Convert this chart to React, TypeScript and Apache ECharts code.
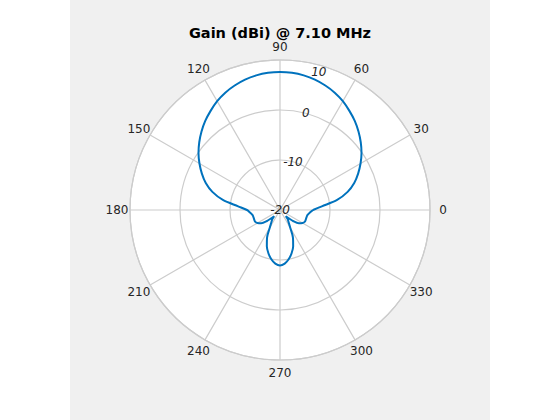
import React, { useEffect, useRef } from 'react';
import * as echarts from 'echarts';

const titleText = 'Gain (dBi) @ 7.10 MHz';

// angle in degrees (0 = right, counter-clockwise)
const angles = [
  0, 5, 10, 15, 20, 25, 30, 35, 40, 45, 50, 55, 60, 65, 70, 75, 80, 85, 90,
  95, 100, 105, 110, 115, 120, 125, 130, 135, 140, 145, 150, 155, 160, 165, 170, 175, 180,
  185, 190, 195, 200, 205, 210, 215, 220, 224, 227, 230, 235, 240, 245, 250, 255, 260, 265, 270,
  275, 280, 285, 290, 295, 300, 305, 310, 313, 316, 320, 325, 330, 335, 340, 345, 350, 355, 360,
];

// gain in dBi
const gains = [
  -13.4, -11.6, -8.4, -6.0, -4.2, -2.76, -1.4, -0.1, 1.08, 2.2, 3.26, 4.2, 5.14, 5.9, 6.5, 7.0, 7.34, 7.54, 7.6,
  7.54, 7.34, 7.0, 6.5, 5.9, 5.14, 4.2, 3.26, 2.2, 1.08, -0.1, -1.4, -2.76, -4.2, -6.0, -8.4, -11.6, -13.4,
  -14.0, -14.4, -14.5, -14.5, -14.5, -14.8, -15.4, -16.5, -17.7, -18.3, -17.6, -17.0, -15.9, -13.86, -12.3, -11.04, -10.0, -9.24, -8.9,
  -9.24, -10.0, -11.04, -12.3, -13.86, -15.9, -17.0, -17.6, -18.3, -17.7, -16.5, -15.4, -14.8, -14.5, -14.5, -14.5, -14.4, -14.0, -13.4,
];

// angular tick labels
const angleTicks = [0, 30, 60, 90, 120, 150, 180, 210, 240, 270, 300, 330];

const radialMin = -20;
const radialMax = 10;
const radialStep = 10;
const angleStep = 30;

const gridColor = '#cccccc';
const textColor = '#262626';
const font = 'DejaVu Sans';

export default function App() {
  const ref = useRef<HTMLDivElement>(null);

  useEffect(() => {
    if (!ref.current) return;
    const chart = echarts.init(ref.current, undefined, { renderer: 'svg' });
    const data = angles.map((a, i) => [gains[i], a]);
    const labelData = angleTicks.map((a) => [1, a]);

    chart.setOption({
      animation: false,
      backgroundColor: '#ffffff',
      title: {
        text: titleText,
        left: 'center',
        top: 20,
        textStyle: { fontFamily: font, fontWeight: 'bold', fontSize: 14.5, color: '#000000' },
      },
      graphic: [
        {
          type: 'rect',
          z: -100,
          silent: true,
          shape: { x: 70, y: 0, width: 420, height: 420 },
          style: { fill: '#f0f0f0' },
        },
      ],
      polar: [
        { center: [280, 210], radius: 150 },
        { center: [280, 210], radius: 150 },
        { center: [280, 210], radius: 163 },
      ],
      angleAxis: [
        {
          polarIndex: 0,
          type: 'value',
          min: 0,
          max: 360,
          interval: angleStep,
          startAngle: 0,
          clockwise: false,
          z: 1,
          axisLine: { show: true, lineStyle: { color: gridColor, width: 1.2 } },
          axisTick: { show: false },
          axisLabel: { show: false },
          splitLine: { show: true, lineStyle: { color: gridColor, width: 1.2 } },
        },
        {
          polarIndex: 1,
          type: 'value',
          min: 0,
          max: 360,
          startAngle: 75,
          clockwise: false,
          show: false,
        },
        {
          polarIndex: 2,
          type: 'value',
          min: 0,
          max: 360,
          startAngle: 0,
          clockwise: false,
          show: false,
        },
      ],
      radiusAxis: [
        {
          polarIndex: 0,
          type: 'value',
          min: radialMin,
          max: radialMax,
          interval: radialStep,
          z: 0,
          axisLine: { show: false },
          axisTick: { show: false },
          axisLabel: { show: false },
          splitLine: { show: false },
          splitArea: { show: true, areaStyle: { color: ['#ffffff'] } },
        },
        {
          polarIndex: 1,
          type: 'value',
          min: radialMin,
          max: radialMax,
          interval: radialStep,
          z: 2,
          axisLine: { show: false },
          axisTick: { show: false },
          splitLine: { show: true, lineStyle: { color: gridColor, width: 1.2 } },
          axisLabel: {
            show: true,
            margin: 0,
            align: 'center',
            verticalAlign: 'middle',
            fontFamily: font,
            fontStyle: 'italic',
            fontSize: 12,
            color: textColor,
            formatter: (v: number) => (v === radialMax ? '{o|' + v + '}' : String(v)),
            rich: {
              o: { padding: [14, 0, 0, 0], fontFamily: font, fontStyle: 'italic', fontSize: 12, color: textColor },
            },
          },
        },
        {
          polarIndex: 2,
          type: 'value',
          min: 0,
          max: 1,
          show: false,
        },
      ],
      series: [
        {
          type: 'line',
          coordinateSystem: 'polar',
          polarIndex: 0,
          data,
          showSymbol: false,
          smooth: 0.3,
          lineStyle: { color: '#0072BD', width: 2 },
          z: 5,
        },
        {
          type: 'scatter',
          coordinateSystem: 'polar',
          polarIndex: 2,
          data: labelData,
          symbolSize: 0,
          clip: false,
          silent: true,
          z: 6,
          itemStyle: { color: textColor, opacity: 1 },
          label: {
            show: true,
            position: 'inside',
            fontFamily: font,
            fontSize: 12,
            color: textColor,
            textBorderWidth: 0,
            textBorderColor: 'transparent',
            opacity: 1,
            formatter: (p: any) => String(p.value[1]),
          },
          emphasis: { disabled: true },
        },
      ],
    });

    return () => chart.dispose();
  }, []);

  return (
    <div
      ref={ref}
      style={{ position: 'absolute', left: 0, top: 0, width: 560, height: 420 }}
    />
  );
}
